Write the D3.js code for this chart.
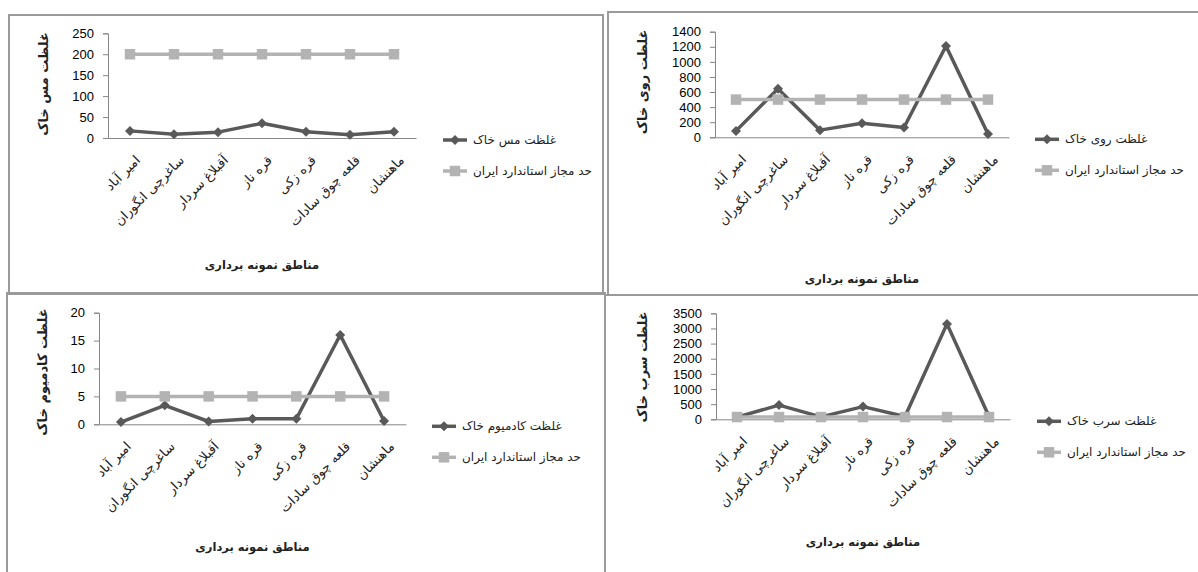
<!DOCTYPE html>
<html><head><meta charset="utf-8">
<script src="https://cdn.jsdelivr.net/npm/d3@7"></script>
<style>html,body{margin:0;padding:0;background:#fff;overflow:hidden}</style>
</head><body>
<svg id="chart" width="1198" height="572"></svg>
<script>
// ---- data ----
const categories = ["امیر آباد","ساغرچی انگوران","آقبلاغ سردار","قره ناز","قره زکی","قلعه چوق سادات","ماهنشان"];
const copper = [17, 9, 14, 35, 15, 8, 15];
const copperLimit = [200, 200, 200, 200, 200, 200, 200];
const zinc = [85, 645, 95, 185, 130, 1210, 45];
const zincLimit = [500, 500, 500, 500, 500, 500, 500];
const cadmium = [0.4, 3.4, 0.5, 1.0, 1.0, 16, 0.6];
const cadmiumLimit = [5, 5, 5, 5, 5, 5, 5];
const lead = [70, 470, 80, 420, 90, 3150, 90];
const leadLimit = [75, 75, 75, 75, 75, 75, 75];
const copperTicks = [0, 50, 100, 150, 200, 250];
const zincTicks = [0, 200, 400, 600, 800, 1000, 1200, 1400];
const cadmiumTicks = [0, 5, 10, 15, 20];
const leadTicks = [0, 500, 1000, 1500, 2000, 2500, 3000, 3500];
const yTitles = ["غلظت مس خاک", "غلظت روی خاک", "غلظت کادمیوم خاک", "غلظت سرب خاک"];
const seriesNames = ["غلظت مس خاک", "غلظت روی خاک", "غلظت کادمیوم خاک", "غلظت سرب خاک"];
const limitName = "حد مجاز استاندارد ایران";
const xTitle = "مناطق نمونه برداری";

// ---- layout ----
const panels = [
  {box:[9,15,603,294], plot:[108,416,33.3,138], vals:copper, lim:copperLimit, ticks:copperTicks, yt:yTitles[0], sn:seriesNames[0], ytx:43, ytY:84, legX:443, xtY:265},
  {box:[608,12,1200,295], plot:[715,1009,31.7,137.3], vals:zinc, lim:zincLimit, ticks:zincTicks, yt:yTitles[1], sn:seriesNames[1], ytx:642, ytY:82, legX:1035, xtY:279},
  {box:[7,293,605,576], plot:[99,406,312.7,424.3], vals:cadmium, lim:cadmiumLimit, ticks:cadmiumTicks, yt:yTitles[2], sn:seriesNames[2], ytx:42, ytY:372, legX:432, xtY:547},
  {box:[605,295,1200,576], plot:[716,1010,313.3,419.3], vals:lead, lim:leadLimit, ticks:leadTicks, yt:yTitles[3], sn:seriesNames[3], ytx:642, ytY:367, legX:1037, xtY:542}
];

const svg = d3.select("#chart");
const dark = "#595959", light = "#b3b3b3", axisCol = "#868686";
const arFont = "'DejaVu Sans', sans-serif";
const numFont = "'Liberation Sans', sans-serif";

const diamond = d3.symbol(d3.symbolSquare, 50)();
const square = d3.symbol(d3.symbolSquare, 110)();

panels.forEach(p => {
  const g = svg.append("g");
  const [bx0, by0, bx1, by1] = p.box;
  g.append("rect").attr("x", bx0).attr("y", by0).attr("width", bx1 - bx0).attr("height", by1 - by0)
    .attr("fill", "none").attr("stroke", "#9a9a9a").attr("stroke-width", 2);

  const [l, r, t, b] = p.plot;
  const x = d3.scaleBand().domain(categories).range([l, r]).padding(0);
  const y = d3.scaleLinear().domain([p.ticks[0], p.ticks[p.ticks.length - 1]]).range([b, t]);

  // y axis
  const ya = g.append("g").attr("transform", `translate(${l},0)`)
    .call(d3.axisLeft(y).tickValues(p.ticks).tickSize(5).tickPadding(9).tickFormat(d3.format("d")));
  ya.select(".domain").attr("stroke", axisCol);
  ya.selectAll(".tick line").attr("stroke", axisCol);
  ya.selectAll(".tick text").attr("font-family", numFont).attr("font-size", 13).attr("fill", "#000");

  // x axis
  const xa = g.append("g").attr("transform", `translate(0,${b})`)
    .call(d3.axisBottom(x).tickSize(0).tickPadding(0));
  xa.select(".domain").attr("stroke", axisCol);
  xa.selectAll(".tick text")
    .attr("font-family", arFont).attr("font-size", 13).attr("fill", "#222")
    .attr("text-anchor", "end").attr("dy", 0).attr("y", 0)
    .attr("transform", "translate(11,23) rotate(-45)");

  const line = d3.line().x((d, i) => x(categories[i]) + x.bandwidth() / 2).y(d => y(d));

  // series
  g.append("path").datum(p.vals).attr("d", line).attr("fill", "none").attr("stroke", dark)
    .attr("stroke-width", 3.5).attr("stroke-linejoin", "round");
  g.selectAll(".dm").data(p.vals).enter().append("path")
    .attr("d", diamond).attr("fill", dark)
    .attr("transform", (d, i) => `translate(${x(categories[i]) + x.bandwidth() / 2},${y(d)}) rotate(45)`);

  g.append("path").datum(p.lim).attr("d", line).attr("fill", "none").attr("stroke", light)
    .attr("stroke-width", 3.5);
  g.selectAll(".sq").data(p.lim).enter().append("path")
    .attr("d", square).attr("fill", light)
    .attr("transform", (d, i) => `translate(${x(categories[i]) + x.bandwidth() / 2},${y(d)})`);

  // axis titles
  g.append("text").attr("transform", `translate(${p.ytx},${p.ytY}) rotate(-90)`)
    .attr("text-anchor", "middle").attr("dominant-baseline", "central")
    .attr("font-family", arFont).attr("font-weight", "bold").attr("font-size", 13).attr("fill", "#222")
    .text(p.yt);
  g.append("text").attr("x", (l + r) / 2).attr("y", p.xtY).attr("text-anchor", "middle")
    .attr("dominant-baseline", "central")
    .attr("font-family", arFont).attr("font-weight", "bold").attr("font-size", 11.5).attr("fill", "#222")
    .text(xTitle);

  // legend
  const ly1 = b + 2, ly2 = b + 33;
  const lg = g.append("g");
  lg.append("line").attr("x1", p.legX).attr("x2", p.legX + 24).attr("y1", ly1).attr("y2", ly1)
    .attr("stroke", dark).attr("stroke-width", 3.5);
  lg.append("path").attr("d", diamond).attr("fill", dark)
    .attr("transform", `translate(${p.legX + 12},${ly1}) rotate(45)`);
  lg.append("text").attr("x", p.legX + 30).attr("y", ly1).attr("dominant-baseline", "central")
    .attr("font-family", arFont).attr("font-size", 12).attr("fill", "#222").text(p.sn);
  lg.append("line").attr("x1", p.legX).attr("x2", p.legX + 24).attr("y1", ly2).attr("y2", ly2)
    .attr("stroke", light).attr("stroke-width", 3.5);
  lg.append("path").attr("d", square).attr("fill", light)
    .attr("transform", `translate(${p.legX + 12},${ly2})`);
  lg.append("text").attr("x", p.legX + 30).attr("y", ly2).attr("dominant-baseline", "central")
    .attr("font-family", arFont).attr("font-size", 12).attr("fill", "#222").text(limitName);
});
</script>
</body></html>
